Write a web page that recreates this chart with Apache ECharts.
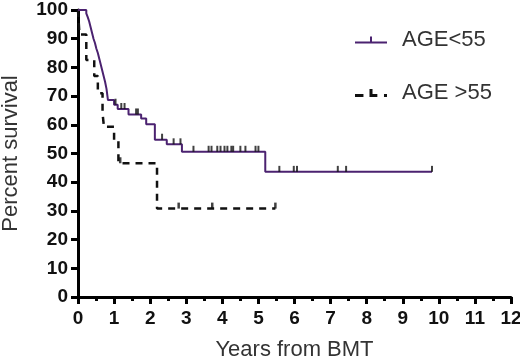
<!DOCTYPE html>
<html>
<head>
<meta charset="utf-8">
<script src="https://cdn.jsdelivr.net/npm/echarts@6/dist/echarts.min.js"></script>
<style>
    html, body { margin: 0; padding: 0; background: #fff; }
    #kmChart { width: 520px; height: 359px; }
</style>
</head>
<body>
<div id="kmChart"></div>
<script>
    // AGE<55 : event times (years) and survival (%) after each step
    const youngTimes = [0, 0.23, 0.27, 0.31, 0.35, 0.39, 0.43, 0.47, 0.51, 0.55, 0.59, 0.63, 0.67, 0.71, 0.75, 0.79, 0.83, 1.0, 1.1, 1.4, 1.75, 1.89, 2.13, 2.46, 2.88, 5.19, 9.81]
    const youngSurv = [100, 98.8, 97.5, 96, 94, 92, 90, 88.5, 86.5, 85, 83, 81, 79, 77, 75, 72.5, 68.6, 67, 65.5, 63.6, 62.2, 60.2, 54.8, 53.2, 50.6, 43.6, 43.6]
    const youngCensored = [1.04, 1.2, 1.29, 1.61, 1.66, 2.33, 2.65, 2.84, 3.2, 3.62, 3.7, 3.86, 3.95, 4.06, 4.14, 4.25, 4.3, 4.5, 4.64, 4.92, 5.0, 5.58, 5.98, 6.07, 7.2, 7.43, 9.81]

    // AGE >55
    const oldTimes = [0, 0.04, 0.23, 0.45, 0.55, 0.68, 0.72, 1.0, 1.12, 2.19, 5.47]
    const oldSurv = [100, 91.5, 82.6, 77, 71, 64, 59.3, 54.7, 46.6, 30.8, 30.8]
    const oldCensored = [1.17, 2.79, 3.72, 5.47]

    const xTicks = [0, 1, 2, 3, 4, 5, 6, 7, 8, 9, 10, 11, 12]
    const yTicks = [0, 10, 20, 30, 40, 50, 60, 70, 80, 90, 100]

    const purple = '#4b2270'
    const black = '#111'

    function pairs (xs, ys) {
        return xs.map((x, i) => [x, ys[i]])
    }

    // survival level at time t (step function)
    function levelAt (xs, ys, t) {
        let v = ys[0]
        for (let i = 0; i < xs.length; i++) {
            if (xs[i] <= t) v = ys[i]
        }
        return v
    }

    function censorPoints (cts, xs, ys) {
        return cts.map(t => [t, levelAt(xs, ys, t)])
    }

    const myChart = echarts.init(document.getElementById('kmChart'))
    const tickFont = {
        fontFamily: 'Liberation Sans, Arial, sans-serif',
        fontWeight: 'bold',
        fontSize: 19,
        color: '#111'
    }
    const nameFont = {
        fontFamily: 'Liberation Sans, Arial, sans-serif',
        fontSize: 22,
        color: '#333'
    }

    const option = {
        animation: false,
        grid: {
            left: 78,
            right: 9,
            top: 10,
            bottom: 62,
            containLabel: false,
            outerBoundsMode: 'none'
        },
        legend: {
            orient: 'vertical',
            left: 350,
            top: 24,
            itemWidth: 32,
            itemHeight: 14,
            itemGap: 31,
            itemStyle: { borderWidth: 0 },
            textStyle: {
                fontFamily: 'Liberation Sans, Arial, sans-serif',
                fontSize: 22,
                color: '#333',
                padding: [0, 0, 0, 10]
            },
            data: [
                { name: 'AGE<55', icon: 'path://M0,8h32v2h-32z M15,3h2v5h-2z' },
                { name: 'AGE >55', icon: 'path://M0,8h7v2.5h-7z M12,4h2.5v6.5h-2.5z M14.5,8h4v2.5h-4z M24,8h2.5v2.5h-2.5z' }
            ]
        },
        xAxis: {
            type: 'value',
            min: 0,
            max: 12,
            interval: 1,
            name: 'Years from BMT',
            nameLocation: 'middle',
            nameGap: 42,
            nameTextStyle: nameFont,
            axisLine: { lineStyle: { color: '#000', width: 3 } },
            axisTick: { length: 7, lineStyle: { color: '#000', width: 3 } },
            minorTick: { show: true, splitNumber: 2, length: 4, lineStyle: { color: '#000', width: 3 } },
            axisLabel: Object.assign({ margin: 12, formatter: v => xTicks.indexOf(v) >= 0 ? v : '' }, tickFont),
            splitLine: { show: false }
        },
        yAxis: {
            type: 'value',
            min: 0,
            max: 100,
            interval: 10,
            name: 'Percent survival',
            nameLocation: 'middle',
            nameGap: 56,
            nameTextStyle: nameFont,
            axisLine: { show: true, lineStyle: { color: '#000', width: 3 } },
            axisTick: { show: true, length: 7, lineStyle: { color: '#000', width: 3 } },
            axisLabel: Object.assign({ margin: 10, formatter: v => yTicks.indexOf(v) >= 0 ? v : '' }, tickFont),
            splitLine: { show: false }
        },
        series: [
            {
                name: 'AGE<55',
                type: 'line',
                step: 'end',
                color: purple,
                showSymbol: false,
                symbol: 'none',
                lineStyle: { color: purple, width: 2 },
                data: pairs(youngTimes, youngSurv),
                z: 3
            },
            {
                name: 'AGE >55',
                type: 'line',
                step: 'end',
                color: black,
                showSymbol: false,
                symbol: 'none',
                lineStyle: { color: black, width: 2.5, type: [7, 6] },
                data: pairs(oldTimes, oldSurv),
                z: 2
            },
            {
                name: 'censor young',
                type: 'scatter',
                symbol: 'rect',
                symbolSize: [2, 6],
                symbolOffset: [0, -3],
                itemStyle: { color: black },
                data: censorPoints(youngCensored, youngTimes, youngSurv),
                z: 4
            },
            {
                name: 'censor old',
                type: 'scatter',
                symbol: 'rect',
                symbolSize: [2.5, 6],
                symbolOffset: [0, -3],
                itemStyle: { color: black },
                data: censorPoints(oldCensored, oldTimes, oldSurv),
                z: 4
            }
        ]
    }
    myChart.setOption(option)
</script>
</body>
</html>
